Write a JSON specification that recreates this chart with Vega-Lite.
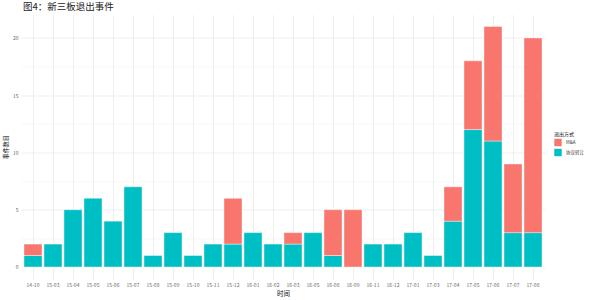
{
  "$schema": "https://vega.github.io/schema/vega-lite/v6.json",
  "autosize": {"type": "none"},
  "padding": {"left": 21, "top": 14.5, "right": 55, "bottom": 21},
  "width": 524,
  "height": 264.5,
  "background": "white",
  "title": {"text": "图4：新三板退出事件", "anchor": "start", "frame": "group", "fontSize": 9.5, "fontWeight": "normal", "color": "#222222", "offset": 3, "dx": 2, "font": "Noto Sans CJK SC"},
  "config": {
    "font": "Noto Sans CJK SC",
    "view": {"stroke": null}
  },
  "data": {"values": [
    {"month": "14-10", "type": "协议转让", "count": 1}, {"month": "14-10", "type": "M&A", "count": 1},
    {"month": "15-03", "type": "协议转让", "count": 2},
    {"month": "15-04", "type": "协议转让", "count": 5},
    {"month": "15-05", "type": "协议转让", "count": 6},
    {"month": "15-06", "type": "协议转让", "count": 4},
    {"month": "15-07", "type": "协议转让", "count": 7},
    {"month": "15-08", "type": "协议转让", "count": 1},
    {"month": "15-09", "type": "协议转让", "count": 3},
    {"month": "15-10", "type": "协议转让", "count": 1},
    {"month": "15-11", "type": "协议转让", "count": 2},
    {"month": "15-12", "type": "协议转让", "count": 2}, {"month": "15-12", "type": "M&A", "count": 4},
    {"month": "16-01", "type": "协议转让", "count": 3},
    {"month": "16-02", "type": "协议转让", "count": 2},
    {"month": "16-03", "type": "协议转让", "count": 2}, {"month": "16-03", "type": "M&A", "count": 1},
    {"month": "16-05", "type": "协议转让", "count": 3},
    {"month": "16-08", "type": "协议转让", "count": 1}, {"month": "16-08", "type": "M&A", "count": 4},
    {"month": "16-09", "type": "M&A", "count": 5},
    {"month": "16-11", "type": "协议转让", "count": 2},
    {"month": "16-12", "type": "协议转让", "count": 2},
    {"month": "17-01", "type": "协议转让", "count": 3},
    {"month": "17-03", "type": "协议转让", "count": 1},
    {"month": "17-04", "type": "协议转让", "count": 4}, {"month": "17-04", "type": "M&A", "count": 3},
    {"month": "17-05", "type": "协议转让", "count": 12}, {"month": "17-05", "type": "M&A", "count": 6},
    {"month": "17-06", "type": "协议转让", "count": 11}, {"month": "17-06", "type": "M&A", "count": 10},
    {"month": "17-07", "type": "协议转让", "count": 3}, {"month": "17-07", "type": "M&A", "count": 6},
    {"month": "17-08", "type": "协议转让", "count": 3}, {"month": "17-08", "type": "M&A", "count": 17}
  ]},
  "mark": {"type": "bar", "stroke": "white", "strokeWidth": 0.4},
  "encoding": {
    "x": {
      "field": "month", "type": "nominal", "sort": null,
      "scale": {"paddingInner": 0.1, "paddingOuter": 0.15},
      "axis": {
        "title": "时间", "titleFontSize": 6.5, "titleFontWeight": "normal", "titleColor": "#111111", "titlePadding": 3,
        "labelAngle": 0, "labelFontSize": 5, "labelColor": "#666666", "labelPadding": 3,
        "ticks": false, "domain": false, "grid": true, "bandPosition": 0.5,
        "gridColor": "#EBEBEB", "gridWidth": 0.8
      }
    },
    "y": {
      "field": "count", "type": "quantitative", "stack": "zero",
      "scale": {"domain": [-1.05, 22.05], "nice": false, "zero": false},
      "axis": {
        "title": "事件数目", "titleFontSize": 6, "titleFontWeight": "normal", "titleColor": "#111111", "titlePadding": 4,
        "values": [0, 2.5, 5, 7.5, 10, 12.5, 15, 17.5, 20],
        "labelExpr": "datum.value % 5 === 0 ? datum.label : ''",
        "labelFontSize": 5, "labelColor": "#666666", "labelPadding": 3,
        "ticks": false, "domain": false,
        "gridColor": "#EBEBEB",
        "gridWidth": {"condition": {"test": "datum.value % 5 === 0", "value": 0.8}, "value": 0.4}
      }
    },
    "color": {
      "field": "type", "type": "nominal",
      "scale": {"domain": ["M&A", "协议转让"], "range": ["#F8766D", "#00BFC4"]},
      "legend": {
        "title": "退出方式", "orient": "none", "legendX": 533, "legendY": 117,
        "titleFontSize": 5, "titleFontWeight": "normal", "titleColor": "#111111", "titlePadding": 2,
        "labelFontSize": 4.5, "labelColor": "#333333",
        "symbolType": "square", "symbolSize": 55, "symbolStrokeWidth": 0, "rowPadding": 2
      }
    },
    "order": {"field": "type", "sort": "descending"}
  }
}
